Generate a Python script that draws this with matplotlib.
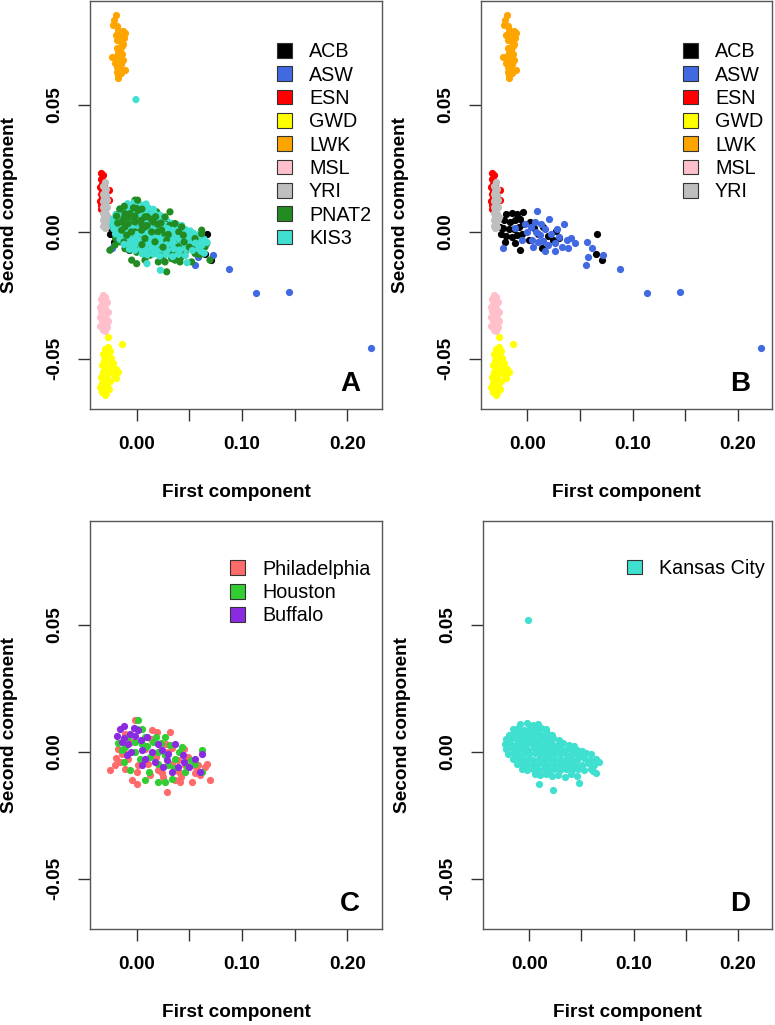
import matplotlib
matplotlib.use("Agg")
import matplotlib.pyplot as plt
from matplotlib.patches import Patch

plt.rcParams['font.family'] = ['Liberation Sans', 'DejaVu Sans']

# 1000 Genomes reference populations (first, second component)
acb = [(-0.0044, 0.0079), (-0.0200, 0.0070), (-0.0150, 0.0075), (-0.0100, 0.0072),
       (-0.0220, 0.0045), (-0.0170, 0.0040), (-0.0120, 0.0045), (-0.0070, 0.0050),
       (-0.0230, 0.0015), (-0.0180, 0.0010), (-0.0130, 0.0012), (-0.0080, 0.0018),
       (-0.0040, 0.0030), (-0.0200, -0.0015), (-0.0150, -0.0020), (-0.0100, -0.0012),
       (-0.0050, -0.0008), (-0.0212, -0.0038), (-0.0120, -0.0045), (-0.0076, -0.0072),
       (0.0020, 0.0040), (0.0060, 0.0015), (0.0100, -0.0010), (0.0150, 0.0020),
       (0.0137, -0.0064), (0.0200, -0.0015), (0.0247, -0.0031), (0.0270, 0.0005),
       (0.0300, -0.0025), (0.0665, -0.0009), (0.0650, -0.0085), (0.0707, -0.0111),
       (0.0010, -0.0030), (-0.0260, 0.0020), (-0.0250, -0.0010)]

asw = [(0.0095, 0.0084), (0.0206, 0.0050), (0.0348, 0.0030), (-0.0117, 0.0015),
       (0.0073, 0.0041), (0.0000, 0.0000), (-0.0053, -0.0031), (0.0042, -0.0031),
       (0.0120, -0.0012), (0.0263, -0.0045), (0.0374, -0.0031), (0.0453, -0.0045),
       (0.0564, -0.0038), (0.0390, -0.0064), (0.0263, -0.0077), (0.0168, -0.0077),
       (-0.0234, -0.0064), (0.0611, -0.0064), (0.0580, -0.0097), (0.0722, -0.0090),
       (0.0555, -0.0130), (0.0880, -0.0147), (0.1134, -0.0239), (0.1450, -0.0237),
       (0.2226, -0.0455), (0.0030, 0.0020), (0.0080, 0.0000), (0.0130, 0.0030),
       (0.0170, 0.0010), (0.0220, -0.0010), (0.0100, -0.0040), (0.0150, -0.0035),
       (0.0050, -0.0060), (0.0300, -0.0020), (0.0330, -0.0060), (0.0200, -0.0050),
       (-0.0020, 0.0030), (0.0280, 0.0010), (0.0410, -0.0025)]

esn = [(-0.0335, 0.0233), (-0.0320, 0.0225), (-0.0340, 0.0210), (-0.0315, 0.0200),
       (-0.0330, 0.0190), (-0.0345, 0.0175), (-0.0325, 0.0165), (-0.0340, 0.0150),
       (-0.0330, 0.0135), (-0.0345, 0.0120), (-0.0335, 0.0105), (-0.0310, 0.0180),
       (-0.0300, 0.0160), (-0.0295, 0.0140), (-0.0340, 0.0090), (-0.0260, 0.0165),
       (-0.0265, 0.0125)]

gwd = [(-0.0276, -0.0415), (-0.0142, -0.0442), (-0.0276, -0.0452), (-0.0300, -0.0460),
       (-0.0250, -0.0470), (-0.0320, -0.0480), (-0.0280, -0.0485), (-0.0240, -0.0495),
       (-0.0310, -0.0505), (-0.0265, -0.0510), (-0.0220, -0.0515), (-0.0330, -0.0525),
       (-0.0290, -0.0530), (-0.0245, -0.0535), (-0.0195, -0.0540), (-0.0175, -0.0550),
       (-0.0320, -0.0550), (-0.0270, -0.0555), (-0.0225, -0.0560), (-0.0340, -0.0570),
       (-0.0295, -0.0575), (-0.0200, -0.0575), (-0.0250, -0.0585), (-0.0330, -0.0595),
       (-0.0280, -0.0600), (-0.0310, -0.0615), (-0.0265, -0.0620), (-0.0330, -0.0630),
       (-0.0295, -0.0635), (-0.0300, -0.0642), (-0.0348, -0.0610)]

lwk = [(-0.0196, 0.0855), (-0.0215, 0.0835), (-0.0225, 0.0815), (-0.0190, 0.0810),
       (-0.0174, 0.0795), (-0.0130, 0.0790), (-0.0111, 0.0785), (-0.0150, 0.0775),
       (-0.0200, 0.0775), (-0.0120, 0.0765), (-0.0190, 0.0756), (-0.0160, 0.0750),
       (-0.0130, 0.0740), (-0.0142, 0.0730), (-0.0185, 0.0725), (-0.0160, 0.0715),
       (-0.0174, 0.0704), (-0.0140, 0.0700), (-0.0237, 0.0690), (-0.0200, 0.0688),
       (-0.0127, 0.0677), (-0.0165, 0.0675), (-0.0206, 0.0664), (-0.0150, 0.0660),
       (-0.0185, 0.0650), (-0.0111, 0.0638), (-0.0160, 0.0640), (-0.0174, 0.0618),
       (-0.0190, 0.0630), (-0.0174, 0.0605), (-0.0145, 0.0625)]

msl = [(-0.0320, -0.0250), (-0.0300, -0.0258), (-0.0340, -0.0265), (-0.0285, -0.0275),
       (-0.0325, -0.0282), (-0.0350, -0.0295), (-0.0300, -0.0298), (-0.0335, -0.0310),
       (-0.0275, -0.0315), (-0.0315, -0.0325), (-0.0350, -0.0335), (-0.0290, -0.0340),
       (-0.0330, -0.0350), (-0.0305, -0.0362), (-0.0345, -0.0372), (-0.0280, -0.0375),
       (-0.0320, -0.0385), (-0.0300, -0.0390), (-0.0270, -0.0350)]

yri = [(-0.0300, 0.0195), (-0.0315, 0.0180), (-0.0290, 0.0170), (-0.0305, 0.0160),
       (-0.0320, 0.0150), (-0.0295, 0.0145), (-0.0310, 0.0135), (-0.0285, 0.0125),
       (-0.0320, 0.0120), (-0.0300, 0.0110), (-0.0315, 0.0100), (-0.0290, 0.0095),
       (-0.0305, 0.0085), (-0.0320, 0.0075), (-0.0295, 0.0070), (-0.0310, 0.0060),
       (-0.0285, 0.0050), (-0.0320, 0.0045), (-0.0300, 0.0035), (-0.0315, 0.0025),
       (-0.0290, 0.0020), (-0.0305, 0.0015), (-0.0275, 0.0060), (-0.0280, 0.0100)]

# PNAT2 study sites
philadelphia = [(-0.0016, 0.0125), (0.0142, 0.0085), (0.0190, 0.0079), (0.0316, 0.0079),
                (-0.0254, -0.0072), (-0.0159, -0.0039), (-0.0111, -0.0066), (-0.0047, -0.0111),
                (0.0000, -0.0125), (0.0126, -0.0092), (0.0237, -0.0085), (0.0285, -0.0157),
                (0.0364, -0.0111), (0.0411, -0.0118), (0.0522, -0.0118), (0.0554, -0.0085),
                (0.0649, -0.0059), (0.0696, -0.0111), (0.0665, -0.0046), (-0.0111, 0.0072),
                (0.0459, -0.0052), (0.0221, 0.0026), (0.0300, 0.0000), (0.0395, -0.0033),
                (0.0110, -0.0046), (0.0015, -0.0052), (-0.0080, -0.0026), (0.0490, -0.0020),
                (-0.0206, -0.0052), (0.0332, -0.0046), (0.0585, -0.0052), (-0.0050, 0.0040),
                (0.0080, 0.0010), (0.0180, -0.0020), (0.0280, 0.0030), (0.0400, -0.0080),
                (0.0000, -0.0080), (0.0600, -0.0090), (-0.0180, 0.0010), (0.0140, 0.0050),
                (0.0450, 0.0010), (0.0250, -0.0100), (-0.0100, -0.0010), (-0.0140, -0.0010),
                (0.0200, -0.0070), (0.0340, 0.0015), (0.0560, -0.0060), (0.0060, -0.0030),
                (0.0420, -0.0100), (-0.0200, -0.0025)]

houston = [(0.0009, 0.0125), (0.0000, 0.0092), (0.0079, 0.0059), (0.0269, 0.0059),
           (0.0316, 0.0026), (-0.0111, 0.0020), (-0.0016, 0.0000), (0.0079, 0.0020),
           (0.0031, -0.0026), (0.0126, -0.0020), (0.0205, -0.0046), (-0.0064, -0.0072),
           (0.0079, -0.0111), (0.0205, -0.0118), (0.0269, -0.0118), (0.0332, -0.0105),
           (0.0459, -0.0079), (0.0554, -0.0046), (0.0617, 0.0007), (0.0617, -0.0079),
           (0.0427, 0.0020), (0.0364, -0.0026), (-0.0142, 0.0007), (0.0158, 0.0039),
           (0.0269, -0.0013), (-0.0016, 0.0039), (-0.0080, 0.0060), (0.0050, 0.0090),
           (0.0200, 0.0000), (0.0120, -0.0080), (0.0300, -0.0050), (-0.0120, -0.0040),
           (0.0400, 0.0000), (0.0050, 0.0030), (0.0520, -0.0030), (0.0180, 0.0060),
           (-0.0180, 0.0035), (0.0100, 0.0025), (0.0230, 0.0035), (0.0350, -0.0065),
           (0.0480, -0.0055)]

buffalo = [(-0.0118, 0.0101), (-0.0190, 0.0062), (-0.0064, 0.0072), (-0.0016, 0.0062),
           (-0.0080, 0.0033), (0.0047, 0.0007), (0.0142, 0.0000), (-0.0095, -0.0013),
           (0.0237, 0.0007), (0.0285, -0.0033), (0.0174, -0.0039), (0.0332, -0.0079),
           (0.0443, -0.0013), (0.0554, -0.0026), (0.0617, -0.0007), (0.0364, 0.0033),
           (0.0015, 0.0085), (0.0079, -0.0026), (0.0395, -0.0059), (0.0601, -0.0079),
           (-0.0140, 0.0040), (0.0100, 0.0060), (0.0200, 0.0030), (0.0300, -0.0010),
           (0.0050, -0.0050), (0.0450, -0.0040), (-0.0050, 0.0000), (0.0250, -0.0060),
           (0.0500, -0.0060), (-0.0160, 0.0090), (-0.0120, 0.0055), (-0.0030, 0.0095),
           (0.0040, 0.0045)]

# KIS3 (Kansas City)
kis3 = [(-0.0085, 0.0111), (-0.0022, 0.0115), (0.0040, 0.0106), (0.0089, 0.0110),
        (-0.0160, 0.0090), (-0.0108, 0.0095), (-0.0048, 0.0088), (0.0004, 0.0093),
        (0.0055, 0.0086), (0.0112, 0.0094), (0.0158, 0.0089),
        (-0.0198, 0.0068), (-0.0142, 0.0075), (-0.0088, 0.0070), (-0.0031, 0.0076),
        (0.0018, 0.0069), (0.0072, 0.0074), (0.0121, 0.0067), (0.0168, 0.0073), (0.0220, 0.0066),
        (-0.0222, 0.0050), (-0.0168, 0.0055), (-0.0121, 0.0049), (-0.0069, 0.0056),
        (-0.0018, 0.0050), (0.0032, 0.0054), (0.0081, 0.0047), (0.0133, 0.0055),
        (0.0179, 0.0050), (0.0232, 0.0053), (0.0284, 0.0046),
        (-0.0230, 0.0030), (-0.0181, 0.0035), (-0.0128, 0.0029), (-0.0079, 0.0034),
        (-0.0031, 0.0030), (0.0021, 0.0036), (0.0070, 0.0031), (0.0122, 0.0028),
        (0.0171, 0.0035), (0.0220, 0.0031), (0.0272, 0.0027), (0.0328, 0.0034),
        (0.0381, 0.0029), (0.0428, 0.0025),
        (-0.0218, 0.0012), (-0.0162, 0.0015), (-0.0108, 0.0010), (-0.0061, 0.0014),
        (-0.0009, 0.0009), (0.0042, 0.0015), (0.0091, 0.0011), (0.0142, 0.0008),
        (0.0189, 0.0014), (0.0241, 0.0010), (0.0292, 0.0013), (0.0341, 0.0007),
        (0.0398, 0.0012), (0.0462, 0.0009), (0.0508, 0.0004),
        (-0.0201, -0.0008), (-0.0149, -0.0005), (-0.0098, -0.0011), (-0.0049, -0.0006),
        (0.0002, -0.0010), (0.0051, -0.0004), (0.0099, -0.0009), (0.0152, -0.0012),
        (0.0201, -0.0006), (0.0249, -0.0010), (0.0302, -0.0005), (0.0358, -0.0011),
        (0.0421, -0.0007), (0.0482, -0.0012), (0.0541, -0.0006), (0.0592, -0.0010),
        (-0.0158, -0.0029), (-0.0109, -0.0025), (-0.0061, -0.0031), (-0.0008, -0.0027),
        (0.0041, -0.0032), (0.0090, -0.0026), (0.0139, -0.0030), (0.0192, -0.0025),
        (0.0238, -0.0031), (0.0291, -0.0027), (0.0342, -0.0033), (0.0399, -0.0026),
        (0.0461, -0.0030), (0.0522, -0.0025), (0.0581, -0.0032), (0.0638, -0.0028),
        (-0.0119, -0.0049), (-0.0068, -0.0046), (-0.0021, -0.0051), (0.0032, -0.0047),
        (0.0079, -0.0052), (0.0131, -0.0046), (0.0182, -0.0050), (0.0229, -0.0045),
        (0.0281, -0.0051), (0.0332, -0.0047), (0.0378, -0.0053), (0.0441, -0.0046),
        (0.0502, -0.0050), (0.0559, -0.0044), (0.0621, -0.0051), (0.0668, -0.0041),
        (-0.0069, -0.0068), (-0.0018, -0.0072), (0.0041, -0.0066), (0.0088, -0.0071),
        (0.0141, -0.0067), (0.0189, -0.0073), (0.0242, -0.0068), (0.0291, -0.0072),
        (0.0352, -0.0066), (0.0409, -0.0071), (0.0471, -0.0067), (0.0529, -0.0073),
        (0.0588, -0.0066), (0.0642, -0.0084),
        (0.0052, -0.0086), (0.0101, -0.0090), (0.0162, -0.0087), (0.0218, -0.0095),
        (0.0279, -0.0089), (0.0341, -0.0097), (0.0398, -0.0088), (0.0462, -0.0093),
        (0.0611, -0.0076),
        (0.0098, -0.0125), (0.0225, -0.0151), (0.0478, -0.0121), (-0.0007, 0.0521)]

ref_names = ['ACB', 'ASW', 'ESN', 'GWD', 'LWK', 'MSL', 'YRI']
ref_data = [acb, asw, esn, gwd, lwk, msl, yri]
ref_colors = ['black', '#4169E1', '#FF0000', '#FFFF00', '#FFA500', '#FFC0CB', '#BEBEBE']

site_names = ['Philadelphia', 'Houston', 'Buffalo']
site_data = [philadelphia, houston, buffalo]
site_colors = ['#FF6A6A', '#32CD32', '#8A2BE2']

pnat2_color = '#228B22'
kis3_color = '#40E0D0'

FS = 13.7
LEG_FS = 14.2
DOT = 27


def xy(points):
    return [p[0] for p in points], [p[1] for p in points]


def style_axes(ax, letter):
    ax.set_xlim(-0.0443, 0.2328)
    ax.set_ylim(-0.0697, 0.0909)
    ax.set_xticks([0, 0.05, 0.10, 0.15, 0.20])
    ax.set_xticklabels(['0.00', '', '0.10', '', '0.20'], fontweight='bold')
    ax.set_yticks([-0.05, 0.0, 0.05])
    ax.set_yticklabels(['-0.05', '0.00', '0.05'], fontweight='bold',
                       rotation=90, va='center')
    ax.tick_params(length=8.5, width=1, pad=11, labelsize=FS, color='#333333')
    ax.set_xlabel('First component', fontweight='bold', fontsize=FS, labelpad=22.5)
    ax.set_ylabel('Second component', fontweight='bold', fontsize=FS, labelpad=20)
    for sp in ax.spines.values():
        sp.set_color('#555555')
        sp.set_linewidth(1)
    ax.text(0.89, 0.06, letter, transform=ax.transAxes, fontsize=20,
            fontweight='bold', ha='center', va='center')


def add_legend(ax, names, colors, x, y):
    handles = [Patch(facecolor=c, edgecolor='#333333', linewidth=0.8, label=n)
               for n, c in zip(names, colors)]
    ax.legend(handles=handles, loc='upper left', bbox_to_anchor=(x, y),
              frameon=False, fontsize=LEG_FS, handlelength=0.78, handleheight=0.78,
              handletextpad=0.85, labelspacing=0.22, borderpad=0, borderaxespad=0)


def plot_refs(ax):
    for pts, col in zip(ref_data, ref_colors):
        px, py = xy(pts)
        ax.scatter(px, py, s=DOT, color=col, linewidths=0)


fig = plt.figure(figsize=(7.75, 10.25), dpi=100)
ax_a = fig.add_axes([0.1161, 0.601, 0.3768, 0.398])
ax_b = fig.add_axes([0.6206, 0.601, 0.3755, 0.398])
ax_c = fig.add_axes([0.1161, 0.0937, 0.3768, 0.398])
ax_d = fig.add_axes([0.6232, 0.0937, 0.3730, 0.398])

# A: references + PNAT2 + KIS3 (study samples interleaved)
plot_refs(ax_a)
pnat2 = philadelphia + houston + buffalo
mix_pts, mix_cols = [], []
for i in range(max(len(pnat2), len(kis3))):
    if i < len(pnat2):
        mix_pts.append(pnat2[i])
        mix_cols.append(pnat2_color)
    if i < len(kis3):
        mix_pts.append(kis3[i])
        mix_cols.append(kis3_color)
mx, my = xy(mix_pts)
ax_a.scatter(mx, my, s=DOT, c=mix_cols, linewidths=0)
add_legend(ax_a, ref_names + ['PNAT2', 'KIS3'],
           ref_colors + [pnat2_color, kis3_color], 0.64, 0.899)
style_axes(ax_a, 'A')

# B: references only
plot_refs(ax_b)
add_legend(ax_b, ref_names, ref_colors, 0.694, 0.899)
style_axes(ax_b, 'B')

# C: PNAT2 by site
for pts, col in zip(site_data, site_colors):
    px, py = xy(pts)
    ax_c.scatter(px, py, s=DOT, color=col, linewidths=0)
add_legend(ax_c, site_names, site_colors, 0.479, 0.905)
style_axes(ax_c, 'C')

# D: KIS3
kx, ky = xy(kis3)
ax_d.scatter(kx, ky, s=DOT, color=kis3_color, linewidths=0)
add_legend(ax_d, ['Kansas City'], [kis3_color], 0.498, 0.907)
style_axes(ax_d, 'D')

fig.savefig('out.png', dpi=100)
